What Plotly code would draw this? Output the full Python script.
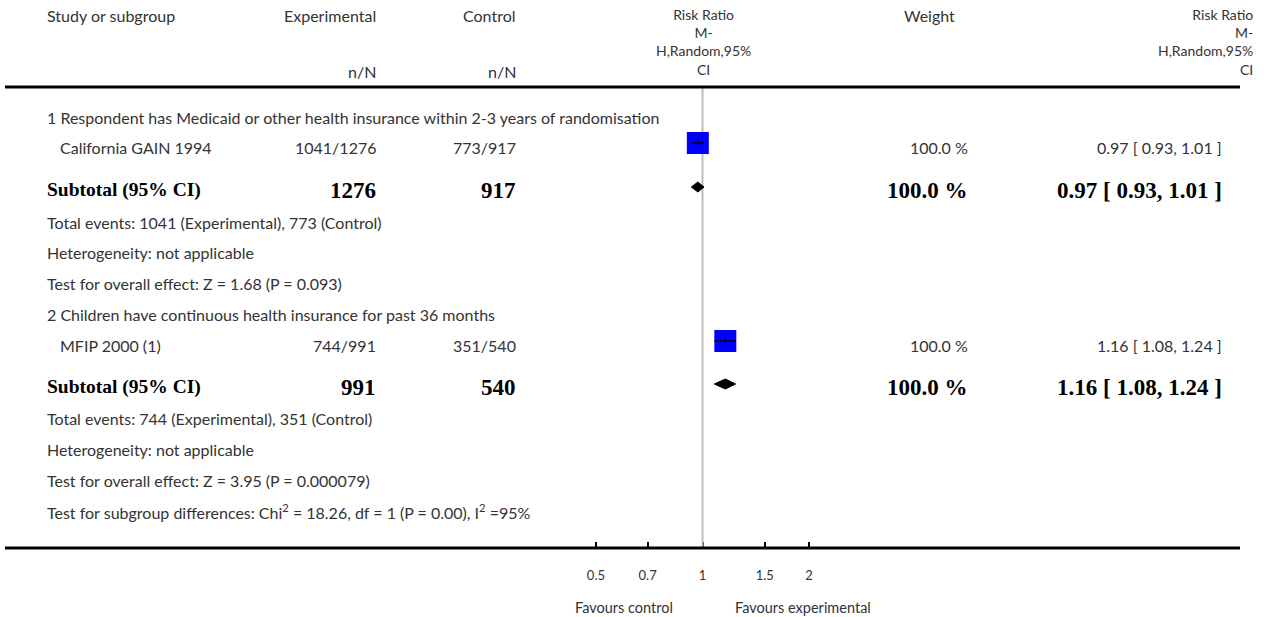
import math
import plotly.graph_objects as go

# ---- data -------------------------------------------------------------
subgroup_titles = [
    "1 Respondent has Medicaid or other health insurance within 2-3 years of randomisation",
    "2 Children have continuous health insurance for past 36 months",
]
study_names = ["California GAIN 1994", "MFIP 2000 (1)"]
exp_events = [1041, 744]
exp_totals = [1276, 991]
ctl_events = [773, 351]
ctl_totals = [917, 540]
study_rr = [0.97, 1.16]
study_lo = [0.93, 1.08]
study_hi = [1.01, 1.24]
study_weight = [100.0, 100.0]

sub_rr = [0.97, 1.16]
sub_lo = [0.93, 1.08]
sub_hi = [1.01, 1.24]
sub_weight = [100.0, 100.0]
overall_z = ["1.68", "3.95"]
overall_p = ["0.093", "0.000079"]

diff_chi2 = "18.26"
diff_df = "1"
diff_p = "0.00"
diff_i2 = "95%"

effect_header = ["Risk Ratio", "M-", "H,Random,95%", "CI"]
tick_values = [0.5, 0.7, 1, 1.5, 2]
tick_labels = ["0.5", "0.7", "1", "1.5", "2"]

# ---- layout constants ---------------------------------------------------
W, H = 1266, 617
NULL_PX = 702.5          # horizontal pixel of RR = 1
PX_PER_DECADE = 354.0    # log10 scale width
HEAD_LINE_Y = 87
AXIS_LINE_Y = 548
LINE_X0, LINE_X1 = 5, 1240

X_STUDY = 45
X_STUDY_INDENT = 58
X_EXP = 378
X_CTL = 518
X_RRHEAD = 703
X_WEIGHT_HEAD = 929
X_WEIGHT = 970
X_RR_TEXT = 1224
X_RR_HEAD = 1255

HEAD_Y = 15
NN_Y = 71
EFFECT_HEAD_Y = 42

# vertical centre of each row for the two subgroup blocks
BLOCK_ROWS = [
    dict(title=117, study=147, subtotal=190, events=222, het=252, test=283),
    dict(title=314, study=345, subtotal=387, events=418, het=449, test=480),
]
DIFF_ROW = 511

SANS = "Lato, Open Sans, sans-serif"
SERIF = "Liberation Serif, Times New Roman, serif"
REG_FONT = dict(family=SANS, size=16, color="#333333")
HEAD_STACK_FONT = dict(family=SANS, size=14, color="#333333")
BOLD_LABEL_FONT = dict(family=SERIF, size=19.5, color="#000000")
BOLD_NUM_FONT = dict(family=SERIF, size=23, color="#000000")
TICK_FONT = dict(family=SANS, size=13, color="#333333")
SIDE_FONT = dict(family=SANS, size=14.5, color="#333333")

x_range = [(0 - NULL_PX) / PX_PER_DECADE, (W - NULL_PX) / PX_PER_DECADE]

fig = go.Figure()
annotations = []


def text(px, y, s, anchor="left", font=REG_FONT, align=None):
    annotations.append(dict(
        x=px / W, xref="paper", y=y, yref="y", text=s, showarrow=False,
        xanchor=anchor, yanchor="middle", font=font, align=align or anchor,
    ))


# column headers
text(X_STUDY, HEAD_Y, "Study or subgroup")
text(X_EXP, HEAD_Y, "Experimental", "right")
text(X_CTL, HEAD_Y, "Control", "right")
text(X_EXP, NN_Y, "n/N", "right")
text(X_CTL, NN_Y, "n/N", "right")
stacked = "<br>".join(effect_header)
text(X_RRHEAD, EFFECT_HEAD_Y, stacked, "center", HEAD_STACK_FONT)
text(X_RR_HEAD, EFFECT_HEAD_Y, stacked, "right", HEAD_STACK_FONT)
text(X_WEIGHT_HEAD, HEAD_Y, "Weight", "center")

# null line at RR = 1
fig.add_trace(go.Scatter(
    x=[1, 1], y=[HEAD_LINE_Y, AXIS_LINE_Y], mode="lines",
    line=dict(color="#bdbdbd", width=2), hoverinfo="skip", showlegend=False,
))

for i, rows in enumerate(BLOCK_ROWS):
    text(X_STUDY, rows["title"], subgroup_titles[i])
    text(X_STUDY_INDENT, rows["study"], study_names[i])
    text(X_EXP, rows["study"], f"{exp_events[i]}/{exp_totals[i]}", "right")
    text(X_CTL, rows["study"], f"{ctl_events[i]}/{ctl_totals[i]}", "right")
    text(X_WEIGHT, rows["study"], f"{study_weight[i]:.1f} %", "right")
    text(X_RR_TEXT, rows["study"],
         f"{study_rr[i]:.2f} [ {study_lo[i]:.2f}, {study_hi[i]:.2f} ]", "right")

    text(X_STUDY, rows["subtotal"], "<b>Subtotal (95% CI)</b>", font=BOLD_LABEL_FONT)
    text(X_EXP, rows["subtotal"], f"<b>{exp_totals[i]}</b>", "right", BOLD_NUM_FONT)
    text(X_CTL, rows["subtotal"], f"<b>{ctl_totals[i]}</b>", "right", BOLD_NUM_FONT)
    text(X_WEIGHT, rows["subtotal"], f"<b>{sub_weight[i]:.1f} %</b>", "right", BOLD_NUM_FONT)
    text(X_RR_TEXT, rows["subtotal"],
         f"<b>{sub_rr[i]:.2f} [ {sub_lo[i]:.2f}, {sub_hi[i]:.2f} ]</b>", "right", BOLD_NUM_FONT)

    text(X_STUDY, rows["events"],
         f"Total events: {exp_events[i]} (Experimental), {ctl_events[i]} (Control)")
    text(X_STUDY, rows["het"], "Heterogeneity: not applicable")
    text(X_STUDY, rows["test"],
         f"Test for overall effect: Z = {overall_z[i]} (P = {overall_p[i]})")

    # study square sized by weight, with its confidence interval
    fig.add_trace(go.Scatter(
        x=[study_rr[i]], y=[rows["study"] - 4], mode="markers",
        marker=dict(symbol="square", size=22 * math.sqrt(study_weight[i] / 100),
                    color="#0000ff", line=dict(width=0)),
        hoverinfo="skip", showlegend=False,
    ))
    fig.add_trace(go.Scatter(
        x=[study_lo[i], study_hi[i]], y=[rows["study"] - 4] * 2, mode="lines",
        line=dict(color="#000000", width=1.5), hoverinfo="skip", showlegend=False,
    ))
    fig.add_trace(go.Scatter(
        x=[study_rr[i]], y=[rows["study"] - 4], mode="markers",
        marker=dict(symbol="line-ns", size=6, line=dict(color="#000000", width=1.2)),
        hoverinfo="skip", showlegend=False,
    ))

    # pooled diamond
    yc = rows["subtotal"] - 3
    fig.add_trace(go.Scatter(
        x=[sub_lo[i], sub_rr[i], sub_hi[i], sub_rr[i], sub_lo[i]],
        y=[yc, yc - 5, yc, yc + 5, yc], mode="lines", fill="toself",
        fillcolor="#000000", line=dict(color="#000000", width=1),
        hoverinfo="skip", showlegend=False,
    ))

text(X_STUDY, DIFF_ROW,
     f"Test for subgroup differences: Chi<sup>2</sup> = {diff_chi2}, df = {diff_df} "
     f"(P = {diff_p}), I<sup>2</sup> ={diff_i2}")

text(675, 607, "Favours control", "right", SIDE_FONT)
text(733, 607, "Favours experimental", "left", SIDE_FONT)

shapes = [
    dict(type="line", xref="paper", yref="y", x0=LINE_X0 / W, x1=LINE_X1 / W,
         y0=HEAD_LINE_Y, y1=HEAD_LINE_Y, line=dict(color="#000000", width=3)),
    dict(type="line", xref="paper", yref="y", x0=LINE_X0 / W, x1=LINE_X1 / W,
         y0=AXIS_LINE_Y, y1=AXIS_LINE_Y, line=dict(color="#000000", width=3)),
]

fig.update_layout(
    width=W, height=H, autosize=False,
    margin=dict(l=0, r=0, t=0, b=0, pad=0),
    paper_bgcolor="#ffffff", plot_bgcolor="#ffffff",
    annotations=annotations, shapes=shapes,
    xaxis=dict(
        type="log", range=x_range, domain=[0, 1],
        anchor="free", position=1 - AXIS_LINE_Y / H,
        tickvals=tick_values, ticktext=tick_labels,
        ticks="inside", ticklen=6, tickwidth=2, tickcolor="#000000",
        ticklabelstandoff=18, tickfont=TICK_FONT,
        showgrid=False, zeroline=False, showline=False, layer="below traces",
        fixedrange=True,
    ),
    yaxis=dict(range=[H, 0], domain=[0, 1], visible=False, fixedrange=True),
    showlegend=False,
)

fig.write_html("out.html")
